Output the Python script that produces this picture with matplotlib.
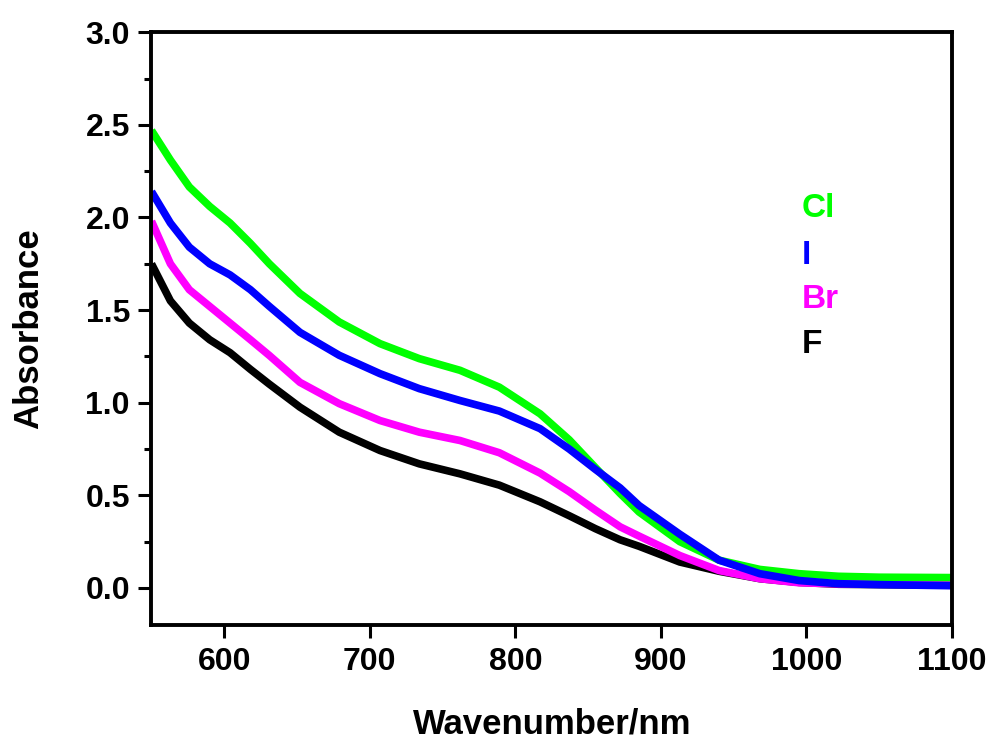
import matplotlib.pyplot as plt
from matplotlib.ticker import MultipleLocator

plt.rcParams['font.family'] = ['Liberation Sans', 'DejaVu Sans']
plt.rcParams['font.weight'] = 'bold'

# absorption spectra, read at shared wavelengths (nm)
wavelength = [550, 563, 576, 590, 604, 618, 631, 652, 679, 707, 734, 762, 789,
              817, 837, 855, 872, 885, 913, 940, 968, 995, 1022, 1050, 1100]
abs_cl = [2.47, 2.31, 2.165, 2.06, 1.97, 1.86, 1.75, 1.59, 1.436, 1.319, 1.238, 1.175, 1.084,
          0.94, 0.80, 0.65, 0.51, 0.41, 0.25, 0.15, 0.10, 0.077, 0.063, 0.058, 0.056]
abs_i = [2.14, 1.97, 1.84, 1.75, 1.69, 1.61, 1.52, 1.38, 1.256, 1.157, 1.076, 1.012, 0.955,
         0.86, 0.75, 0.64, 0.54, 0.445, 0.29, 0.15, 0.077, 0.04, 0.023, 0.018, 0.012]
abs_br = [1.98, 1.75, 1.61, 1.52, 1.43, 1.34, 1.255, 1.11, 0.995, 0.904, 0.841, 0.796, 0.73,
          0.62, 0.52, 0.42, 0.33, 0.28, 0.175, 0.094, 0.05, 0.028, 0.022, 0.022, 0.022]
abs_f = [1.75, 1.55, 1.43, 1.34, 1.27, 1.18, 1.10, 0.976, 0.841, 0.742, 0.67, 0.616, 0.555,
         0.465, 0.39, 0.32, 0.26, 0.225, 0.14, 0.09, 0.05, 0.03, 0.02, 0.018, 0.015]

labels = ['Cl', 'I', 'Br', 'F']
colors = ['#00ff00', '#0000ff', '#ff00ff', '#000000']
label_y = [2.0, 1.75, 1.51, 1.27]

fig = plt.figure(figsize=(9.96, 7.4), dpi=100)
ax = fig.add_axes([0.1521, 0.1554, 0.8037, 0.801])

# drawing order keeps blue on top where the curves cross
for y, c in [(abs_f, colors[3]), (abs_br, colors[2]),
             (abs_cl, colors[0]), (abs_i, colors[1])]:
    ax.plot(wavelength, y, color=c, lw=5.5, solid_joinstyle='round',
            solid_capstyle='butt')

ax.set_xlim(550, 1100)
ax.set_ylim(-0.2, 3.0)
ax.xaxis.set_major_locator(MultipleLocator(100))
ax.yaxis.set_major_locator(MultipleLocator(0.5))
ax.yaxis.set_minor_locator(MultipleLocator(0.25))
ax.yaxis.set_major_formatter(plt.FormatStrFormatter('%.1f'))

for s in ax.spines.values():
    s.set_linewidth(2.8)
ax.tick_params(which='major', direction='out', length=9.5, width=2.2,
               labelsize=23, pad=6)
ax.tick_params(which='minor', direction='out', length=5, width=2.2)
ax.tick_params(top=False, right=False)
ax.tick_params(axis='x', which='minor', bottom=False)

ax.set_xlabel('Wavenumber/nm', fontsize=25, fontweight='bold', labelpad=22)
ax.set_ylabel('Absorbance', fontsize=25, fontweight='bold', labelpad=29)

# text labels in place of a legend box
for lab, c, yy in zip(labels, colors, label_y):
    ax.text(997, yy, lab, color=c, fontsize=24, fontweight='bold',
            ha='left', va='baseline')

fig.savefig('out.png', dpi=100)
